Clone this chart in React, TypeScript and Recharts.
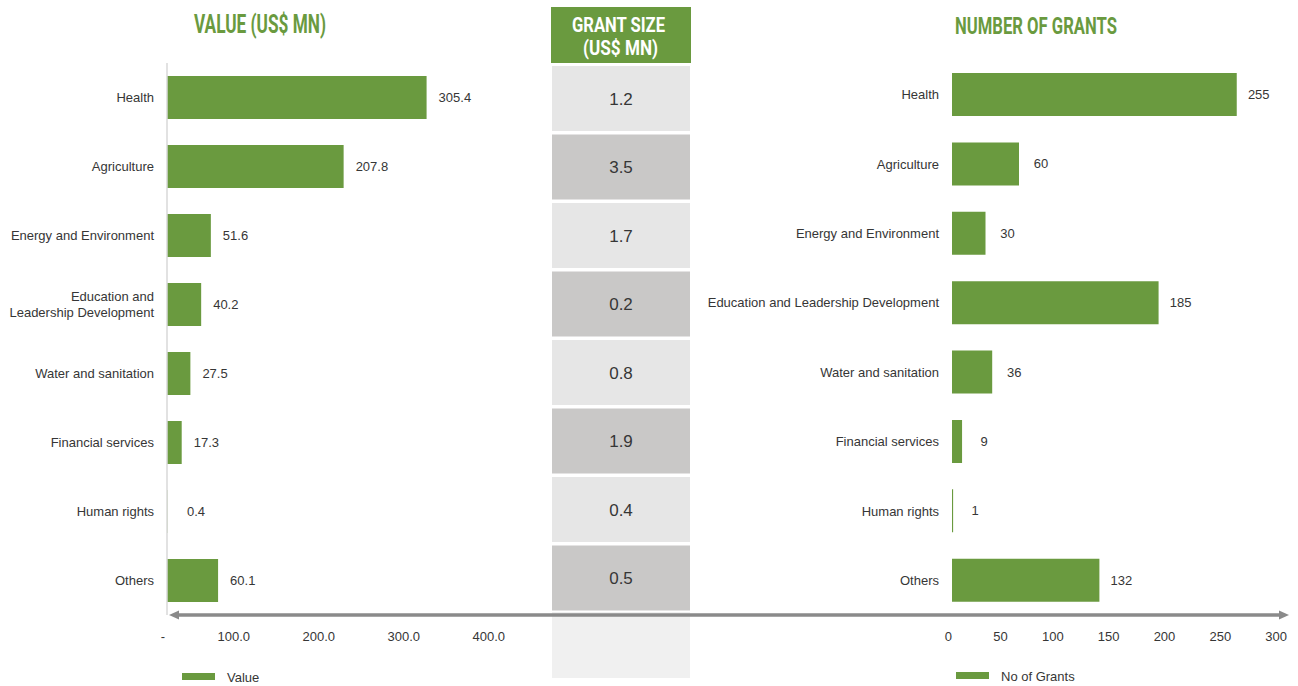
import React from 'react';
import { BarChart, Bar, XAxis, YAxis, LabelList } from 'recharts';

const categories = [
  'Health',
  'Agriculture',
  'Energy and Environment',
  'Education and Leadership Development',
  'Water and sanitation',
  'Financial services',
  'Human rights',
  'Others',
];
const values = [305.4, 207.8, 51.6, 40.2, 27.5, 17.3, 0.4, 60.1];
const grantSizes = [1.2, 3.5, 1.7, 0.2, 0.8, 1.9, 0.4, 0.5];
const grantCounts = [255, 60, 30, 185, 36, 9, 1, 132];
const valueTicks = [0, 100, 200, 300, 400];
const countTicks = [0, 50, 100, 150, 200, 250, 300];

const GREEN = '#6a9a3f';
const TEXT = '#363636';
const FONT = "'Liberation Sans', Arial, Helvetica, sans-serif";
const TITLE_FONT = "Roboto, 'Liberation Sans', sans-serif";

const valueData = categories.map((name, i) => ({ name, value: values[i] }));
const countData = categories.map((name, i) => ({ name, count: grantCounts[i] }));
const sizeData = categories.map((name, i) => ({ name, size: grantSizes[i] }));

function wrapWords(label: string, maxChars: number): string[] {
  const words = label.split(' ');
  const lines: string[] = [];
  let cur = '';
  words.forEach((w) => {
    const next = cur ? cur + ' ' + w : w;
    if (next.length > maxChars && cur) {
      lines.push(cur);
      cur = w;
    } else {
      cur = next;
    }
  });
  if (cur) lines.push(cur);
  return lines;
}

const CategoryTick = (props: any) => {
  const { x, y, payload, wrap } = props;
  const lines = wrap ? wrapWords(String(payload.value), 22) : [String(payload.value)];
  const lh = 16;
  const start = y - ((lines.length - 1) * lh) / 2;
  return (
    <text x={x} y={start} textAnchor="end" fontFamily={FONT} fontSize={13} fill={TEXT}>
      {lines.map((l, i) => (
        <tspan key={i} x={x} y={start + i * lh} dy="0.355em">
          {l}
        </tspan>
      ))}
    </text>
  );
};

const NumTick = (props: any) => {
  const { x, y, payload, fmt, dx } = props;
  return (
    <text x={x + (dx || 0)} y={y} dy="0.71em" textAnchor="end" fontFamily={FONT} fontSize={13} fill={TEXT}>
      {fmt(payload.value)}
    </text>
  );
};

const ValueLabel = (props: any) => {
  const { x, y, width, height, value } = props;
  return (
    <text
      x={x + Math.max(width, 8) + 12}
      y={y + height / 2}
      dy="0.355em"
      textAnchor="start"
      fontFamily={FONT}
      fontSize={13}
      fill={TEXT}
    >
      {Number(value).toFixed(1)}
    </text>
  );
};

const CountLabel = (props: any) => {
  const { x, y, width, height, value } = props;
  return (
    <text
      x={x + width + 22}
      y={y + height / 2}
      dy="0.355em"
      textAnchor="middle"
      fontFamily={FONT}
      fontSize={13}
      fill={TEXT}
    >
      {value}
    </text>
  );
};

const SizeCell = (props: any) => {
  const { x, y, width, height, index } = props;
  return (
    <g>
      <rect x={x} y={y} width={width} height={height} fill={index % 2 === 0 ? '#e6e6e6' : '#c9c8c7'} />
      <text
        x={x + width / 2}
        y={y + height / 2}
        dy="0.355em"
        textAnchor="middle"
        fontFamily={FONT}
        fontSize={17}
        fill={TEXT}
      >
        {grantSizes[index].toFixed(1)}
      </text>
    </g>
  );
};

export default function App() {
  return (
    <div style={{ position: 'absolute', left: 0, top: 0, width: 1298, height: 686, background: '#fff', overflow: 'hidden' }}>
      <div style={{ position: 'absolute', left: 552, top: 612, width: 138, height: 66, background: '#f0f0f0' }} />

      <div style={{ position: 'absolute', left: 0, top: 0 }}>
        <BarChart
          width={540}
          height={686}
          data={valueData}
          layout="vertical"
          margin={{ top: 63, right: 33, bottom: 0, left: 0 }}
        >
          <XAxis
            type="number"
            domain={[0, 400]}
            ticks={valueTicks}
            height={71}
            axisLine={false}
            tickLine={false}
            tickSize={0}
            tickMargin={17}
            interval={0}
            tick={<NumTick fmt={(v: number) => (v === 0 ? '-' : v.toFixed(1))} dx={-2} />}
          />
          <YAxis
            type="category"
            dataKey="name"
            width={167}
            axisLine={{ stroke: '#d9d9d9', strokeWidth: 1.5 }}
            tickLine={false}
            tickSize={0}
            tickMargin={13}
            interval={0}
            tick={<CategoryTick wrap />}
          />
          <Bar dataKey="value" fill={GREEN} barSize={43} isAnimationActive={false}>
            <LabelList dataKey="value" content={<ValueLabel />} />
          </Bar>
        </BarChart>
      </div>

      <div style={{ position: 'absolute', left: 552, top: 0 }}>
        <BarChart
          width={138}
          height={686}
          data={sizeData}
          layout="vertical"
          margin={{ top: 64, right: 0, bottom: 74, left: 0 }}
        >
          <XAxis type="number" domain={[0, 4]} hide />
          <YAxis type="category" dataKey="name" hide />
          <Bar
            dataKey="size"
            barSize={65}
            isAnimationActive={false}
            background={<SizeCell />}
            shape={() => <g />}
          />
        </BarChart>
      </div>

      <div style={{ position: 'absolute', left: 700, top: 0 }}>
        <BarChart
          width={598}
          height={686}
          data={countData}
          layout="vertical"
          margin={{ top: 60, right: 11, bottom: 0, left: 0 }}
        >
          <XAxis
            type="number"
            domain={[0, 300]}
            ticks={countTicks}
            height={71}
            axisLine={false}
            tickLine={false}
            tickSize={0}
            tickMargin={17}
            interval={0}
            tick={<NumTick fmt={(v: number) => String(v)} dx={0} />}
          />
          <YAxis
            type="category"
            dataKey="name"
            width={252}
            axisLine={false}
            tickLine={false}
            tickSize={0}
            tickMargin={13}
            interval={0}
            tick={<CategoryTick />}
          />
          <Bar dataKey="count" fill={GREEN} barSize={43} isAnimationActive={false}>
            <LabelList dataKey="count" content={<CountLabel />} />
          </Bar>
        </BarChart>
      </div>

      <svg
        width={1298}
        height={686}
        style={{ position: 'absolute', left: 0, top: 0, pointerEvents: 'none' }}
      >
        <text x={194} y={33} fontFamily={TITLE_FONT} fontWeight={700} fontStyle="normal" fontSize={25} fill={GREEN} textLength={132} lengthAdjust="spacingAndGlyphs">
          VALUE (US$ MN)
        </text>
        <text x={955} y={34} fontFamily={TITLE_FONT} fontWeight={700} fontStyle="normal" fontSize={24} fill={GREEN} textLength={162} lengthAdjust="spacingAndGlyphs">
          NUMBER OF GRANTS
        </text>

        <rect x={551} y={7} width={140} height={56} fill={GREEN} />
        <text x={572} y={32} fontFamily={TITLE_FONT} fontWeight={700} fontStyle="normal" fontSize={21} fill="#ffffff" textLength={93} lengthAdjust="spacingAndGlyphs">
          GRANT SIZE
        </text>
        <text x={583} y={55} fontFamily={TITLE_FONT} fontWeight={700} fontStyle="normal" fontSize={21} fill="#ffffff" textLength={75} lengthAdjust="spacingAndGlyphs">
          (US$ MN)
        </text>

        <line x1={176} y1={615} x2={1282} y2={615} stroke="#8a8a8a" strokeWidth={3.5} />
        <polygon points="169,615 179,610.5 179,619.5" fill="#8a8a8a" />
        <polygon points="1289,615 1279,610.5 1279,619.5" fill="#8a8a8a" />

        <rect x={182} y={673} width={33} height={7} fill={GREEN} />
        <text x={227} y={681.5} fontFamily={FONT} fontSize={13} fill={TEXT}>
          Value
        </text>
        <rect x={956} y={672} width={33} height={7} fill={GREEN} />
        <text x={1001} y={680.5} fontFamily={FONT} fontSize={13} fill={TEXT}>
          No of Grants
        </text>
      </svg>
    </div>
  );
}
